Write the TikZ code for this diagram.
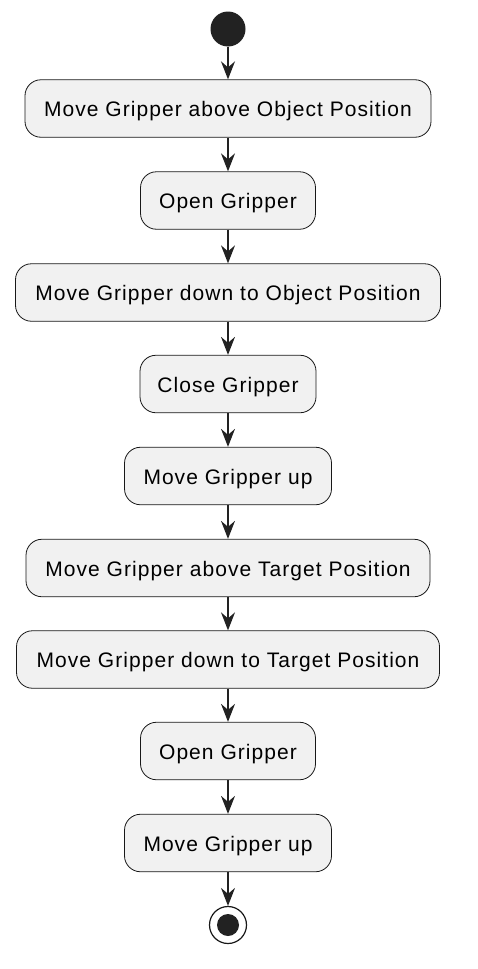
\documentclass[tikz,border=0pt]{standalone}
\usepackage{fontspec}
\setmainfont{Liberation Sans}
\usetikzlibrary{arrows.meta}
\definecolor{boxfill}{HTML}{F1F1F1}
\definecolor{ink}{HTML}{181818}
\definecolor{dotc}{HTML}{222222}
\begin{document}
\begin{tikzpicture}[x=1pt,y=-1pt,
  act/.style={draw=ink, fill=boxfill, rounded corners=16pt, minimum height=57.5pt,
    line width=0.8pt, inner xsep=0pt, inner ysep=0pt, text height=16pt, text depth=0pt,
    font=\fontsize{21}{25}\selectfont\addfontfeature{LetterSpace=5}},
  flow/.style={draw=dotc, line width=1.5pt, -{Stealth[length=18pt,width=14pt,inset=6pt]}}]
\useasboundingbox (0,0) rectangle (478,969);
\node[circle, fill=dotc, minimum size=35pt, inner sep=0pt] (start) at (228,29) {};
\node[act, minimum width=406pt] (b1) at (228,108.5) {Move Gripper above Object Position};
\node[act, minimum width=175pt] (b2) at (228,200.5) {Open Gripper};
\node[act, minimum width=425pt] (b3) at (228,292.5) {Move Gripper down to Object Position};
\node[act, minimum width=176pt] (b4) at (228,384) {Close Gripper};
\node[act, minimum width=207pt] (b5) at (228,476) {Move Gripper up};
\node[act, minimum width=404pt] (b6) at (228,568) {Move Gripper above Target Position};
\node[act, minimum width=423pt] (b7) at (228,659.5) {Move Gripper down to Target Position};
\node[act, minimum width=175pt] (b8) at (228,751) {Open Gripper};
\node[act, minimum width=207pt] (b9) at (228,843) {Move Gripper up};
\node[circle, draw=ink, fill=white, line width=1.2pt, minimum size=37pt, inner sep=0pt] (stop) at (228,925) {};
\node[circle, fill=dotc, minimum size=22pt, inner sep=0pt] (stopdot) at (stop.center) {};
\draw[flow] (start) -- (b1);
\draw[flow] (b1) -- (b2);
\draw[flow] (b2) -- (b3);
\draw[flow] (b3) -- (b4);
\draw[flow] (b4) -- (b5);
\draw[flow] (b5) -- (b6);
\draw[flow] (b6) -- (b7);
\draw[flow] (b7) -- (b8);
\draw[flow] (b8) -- (b9);
\draw[flow] (b9) -- (stop);
\end{tikzpicture}
\end{document}
